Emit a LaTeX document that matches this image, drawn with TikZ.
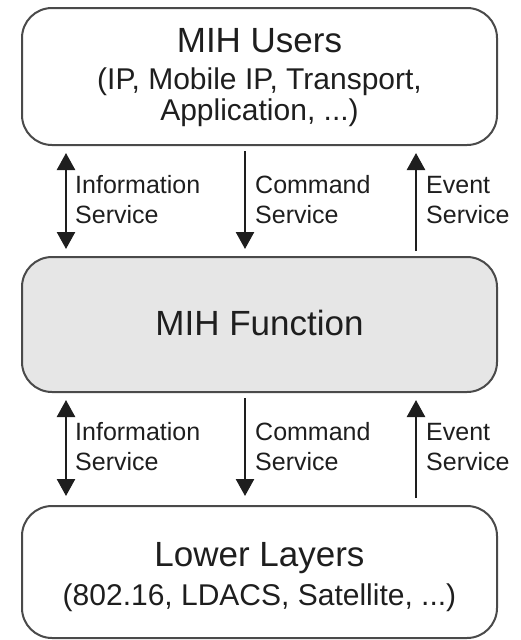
\documentclass[tikz,border=0pt]{standalone}
\usepackage{fontspec}
\setmainfont{Liberation Sans}
\usetikzlibrary{arrows.meta}
\definecolor{edge}{HTML}{4A4A4A}
\definecolor{ink}{HTML}{1E1E1E}
\definecolor{fnfill}{HTML}{E6E6E6}
\begin{document}
\begin{tikzpicture}[x=1pt,y=-1pt,
  layer/.style={draw=edge, line width=2pt, rounded corners=30pt,
    minimum width=475pt, inner sep=0pt},
  title/.style={font=\fontsize{35}{40}\selectfont, text=ink, anchor=base, inner sep=0pt},
  sub/.style={font=\fontsize{30}{34}\selectfont, text=ink, anchor=base, inner sep=0pt},
  svc/.style={font=\fontsize{25}{30}\selectfont, text=ink, align=left,
    anchor=base west, inner sep=0pt},
  flow/.style={line width=2.5pt, draw=ink},
  down/.style={flow, -{Triangle[length=17pt,width=18pt]}},
  twoway/.style={flow, {Triangle[length=17pt,width=18pt]}-{Triangle[length=17pt,width=18pt]}}]
\useasboundingbox (0,0) rectangle (521,640);

% the three layers
\node[layer, minimum height=137pt] (users) at (259.5,76.5) {};
\node[layer, minimum height=135pt, fill=fnfill] (mihf) at (259.5,324.5) {};
\node[layer, minimum height=132pt] (lower) at (259.5,572) {};

% layer titles
\node[title] (usersT) at (259.5,52) {MIH Users};
\node[sub] (usersA) at (259.5,89) {(IP, Mobile IP, Transport,};
\node[sub] (usersB) at (259.5,120) {Application, ...)};
\node[title] (mihfT) at (259.5,335) {MIH Function};
\node[title] (lowerT) at (259.5,566) {Lower Layers};
\node[sub] (lowerA) at (259.5,605) {(802.16, LDACS, Satellite, ...)};

% service columns
\coordinate (xi) at (66,0);
\coordinate (xc) at (245,0);
\coordinate (xe) at (416,0);

% users <-> MIH function
\draw[twoway] ([yshift=-7pt]users.south -| xi) -- ([yshift=7pt]mihf.north -| xi);
\draw[down] ([yshift=-5pt]users.south -| xc) -- ([yshift=7pt]mihf.north -| xc);
\draw[down] ([yshift=5pt]mihf.north -| xe) -- ([yshift=-7pt]users.south -| xe);
\node[svc] (is1) at (75,223) {Information\\Service};
\node[svc] (cs1) at (255,223) {Command\\Service};
\node[svc] (es1) at (426,223) {Event\\Service};

% MIH function <-> lower layers
\draw[twoway] ([yshift=-7pt]mihf.south -| xi) -- ([yshift=9pt]lower.north -| xi);
\draw[down] ([yshift=-5pt]mihf.south -| xc) -- ([yshift=9pt]lower.north -| xc);
\draw[down] ([yshift=7pt]lower.north -| xe) -- ([yshift=-7pt]mihf.south -| xe);
\node[svc] (is2) at (75,470) {Information\\Service};
\node[svc] (cs2) at (255,470) {Command\\Service};
\node[svc] (es2) at (426,470) {Event\\Service};
\end{tikzpicture}
\end{document}
